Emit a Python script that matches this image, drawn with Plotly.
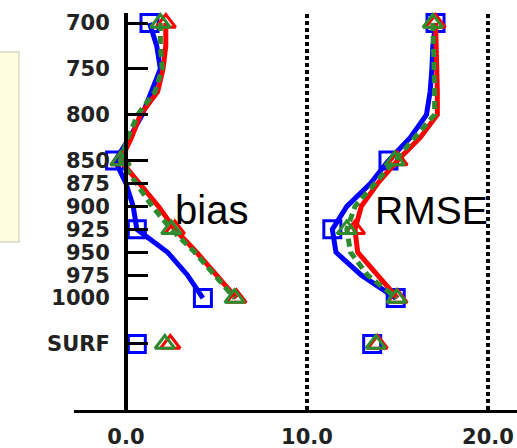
import plotly.graph_objects as go

# ---- data ----
levels = [700, 725, 750, 775, 800, 825, 850, 875, 900, 925, 950, 975, 1000]
surf_level = 1050
marker_levels = [700, 850, 925, 1000]

tick_vals = [700, 750, 800, 850, 875, 900, 925, 950, 975, 1000, 1050]
tick_text = ["700", "750", "800", "850", "875", "900", "925", "950", "975", "1000", "SURF"]
x_tick_vals = [0, 10, 20]
x_tick_text = ["0.0", "10.0", "20.0"]

bias_blue = [1.3, 1.7, 1.9, 1.4, 0.9, 0.2, -0.6, 0.0, 0.4, 0.6, 2.3, 3.4, 4.25]
bias_red = [2.2, 2.2, 2.05, 1.75, 0.8, 0.3, -0.3, 0.75, 1.8, 2.7, 3.9, 5.0, 6.1]
bias_green = [1.9, 1.9, 2.0, 1.6, 0.65, 0.1, -0.3, 0.6, 1.45, 2.5, 3.8, 4.9, 6.0]
bias_surf = {"blue": 0.6, "red": 2.45, "green": 2.15}

rmse_blue = [17.1, 16.95, 16.9, 16.8, 16.6, 15.7, 14.5, 13.5, 12.2, 11.4, 11.6, 13.0, 14.9]
rmse_red = [17.1, 17.15, 17.2, 17.2, 17.2, 16.25, 15.0, 13.9, 13.0, 12.65, 12.8, 13.9, 15.0]
rmse_green = [16.95, 17.0, 17.05, 17.05, 17.05, 15.95, 14.85, 13.75, 12.65, 12.2, 12.4, 13.35, 14.95]
rmse_surf = {"blue": 13.6, "red": 13.9, "green": 13.8}

series = [
    ("blue", "#0000FF", "solid", "square-open", bias_blue, rmse_blue),
    ("red", "#FF0000", "solid", "triangle-up-open", bias_red, rmse_red),
    ("green", "#2E8B2E", "8px,5px", "triangle-up-open", bias_green, rmse_green),
]

fig = go.Figure()

for name, color, dash, symbol, bvals, rvals in series:
    for vals, surf in ((bvals, bias_surf[name]), (rvals, rmse_surf[name])):
        fig.add_trace(go.Scatter(
            x=vals, y=levels, mode="lines",
            line=dict(color=color, width=5, dash=dash),
            showlegend=False, hoverinfo="skip"))
        mx = [v for v, l in zip(vals, levels) if l in marker_levels] + [surf]
        my = [l for l in levels if l in marker_levels] + [surf_level]
        fig.add_trace(go.Scatter(
            x=mx, y=my, mode="markers",
            marker=dict(symbol=symbol, size=17, color=color,
                        line=dict(color=color, width=3)),
            showlegend=False, hoverinfo="skip", cliponaxis=False))

tick_font = dict(family="DejaVu Sans", size=21, color="#222222", weight="bold")

fig.update_layout(
    width=517, height=448,
    margin=dict(l=74, r=0, t=13, b=38),
    paper_bgcolor="white", plot_bgcolor="white",
    xaxis=dict(range=[-2.87, 21.6], showline=True, linecolor="black", linewidth=3,
               tickvals=x_tick_vals, ticktext=x_tick_text, ticks="",
               showgrid=False, zeroline=False, tickfont=tick_font,
               ticklabelstandoff=6),
    yaxis=dict(range=[1122, 689.1], anchor="free", position=52 / 443,
               showline=True, linecolor="black", linewidth=4,
               tickvals=tick_vals, ticktext=tick_text, ticks="inside",
               ticklen=20, tickwidth=3, tickcolor="black",
               showgrid=False, zeroline=False, tickfont=tick_font,
               ticklabelstandoff=10),
    shapes=[
        dict(type="rect", xref="paper", yref="paper",
             x0=-0.3, x1=(19 - 74) / 443, y0=(410 - 242) / 397, y1=(410 - 52) / 397,
             fillcolor="#FFFDE0", line=dict(color="#D8D8C8", width=1.5), layer="below"),
        dict(type="line", xref="x", yref="paper", x0=10, x1=10, y0=0, y1=1,
             line=dict(color="black", width=4, dash="4px,3px")),
        dict(type="line", xref="x", yref="paper", x0=20, x1=20, y0=0, y1=1,
             line=dict(color="black", width=4, dash="4px,3px")),
    ],
    annotations=[
        dict(text="bias", x=2.6, y=904, xref="x", yref="y", xanchor="left",
             yanchor="middle", showarrow=False,
             font=dict(family="Liberation Sans", size=40, color="black")),
        dict(text="RMSE", x=13.65, y=904, xref="x", yref="y", xanchor="left",
             yanchor="middle", showarrow=False,
             font=dict(family="Liberation Sans", size=39, color="black")),
    ],
)

fig.write_html("out.html",
               config={"displayModeBar": False},
               post_script="document.body.style.margin='0';document.body.style.overflow='hidden';")
